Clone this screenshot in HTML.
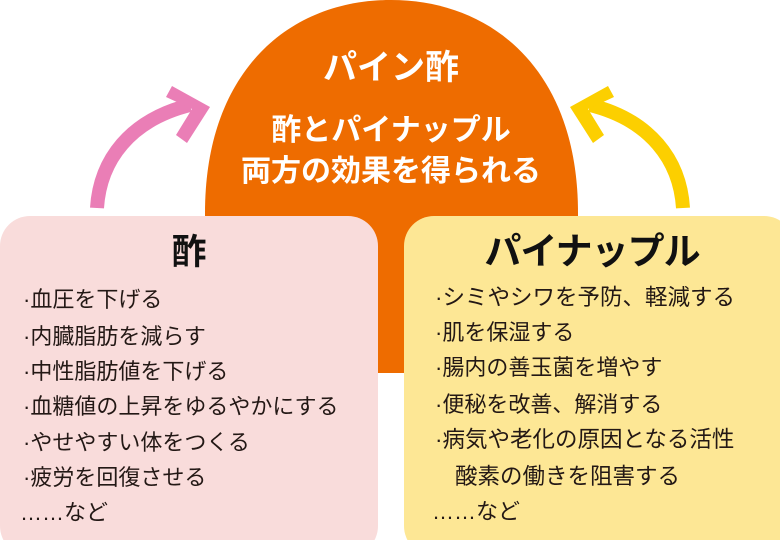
<!DOCTYPE html>
<html><head><meta charset="utf-8"><style>
body{margin:0;width:780px;height:540px;overflow:hidden;background:#fff;position:relative;font-family:"Liberation Sans","Noto Sans CJK JP",sans-serif}
.t{position:absolute;white-space:nowrap;line-height:1}
.w{color:#fff;font-weight:bold;text-align:center;width:400px;left:191px}
.l{font-size:22px;color:#231815}
</style></head><body>
<svg width="780" height="540" style="position:absolute;left:0;top:0">
<path d="M205,373 L205,213 C205,70 290,0 391,0 C492,0 578,70 578,213 L578,373 Z" fill="#ee6c00"/>
<rect x="0" y="216" width="378" height="340" rx="30" fill="#f9dcdb"/>
<rect x="404" y="216" width="390" height="340" rx="30" fill="#fde795"/>
<path d="M97,208 C100,160 130,120 190,105" stroke="#ea7eb6" stroke-width="14" fill="none"/>
<polygon points="172,86 210,107 187,143 176,135 192,109 166,97" fill="#ea7eb6"/>
<path d="M683,208 C680,160 650,120 590,105" stroke="#fccf00" stroke-width="14" fill="none"/>
<polygon points="608,86 570,107 593,143 604,135 588,109 614,97" fill="#fccf00"/>
</svg>
<div class="t w" style="top:51px;font-size:34px">パイン酢</div>
<div class="t w" style="top:116px;font-size:30px">酢とパイナップル</div>
<div class="t w" style="top:157px;font-size:30px">両方の効果を得られる</div>
<div class="t" style="left:0;width:378px;text-align:center;top:235px;font-size:35px;font-weight:bold;color:#111">酢</div>
<div class="t" style="left:404px;width:376px;text-align:center;top:233px;font-size:37px;font-weight:bold;color:#111;letter-spacing:-1px">パイナップル</div>
<div class="t l" style="left:23px;top:289px">·血圧を下げる</div>
<div class="t l" style="left:23px;top:326px">·内臓脂肪を減らす</div>
<div class="t l" style="left:23px;top:361px">·中性脂肪値を下げる</div>
<div class="t l" style="left:23px;top:396px">·血糖値の上昇をゆるやかにする</div>
<div class="t l" style="left:23px;top:432px">·やせやすい体をつくる</div>
<div class="t l" style="left:23px;top:467px">·疲労を回復させる</div>
<div class="t l" style="left:20px;top:502px">……など</div>
<div class="t l" style="left:435px;top:287px;font-size:22.5px">·シミやシワを予防、軽減する</div>
<div class="t l" style="left:435px;top:322px">·肌を保湿する</div>
<div class="t l" style="left:435px;top:357px">·腸内の善玉菌を増やす</div>
<div class="t l" style="left:435px;top:394px">·便秘を改善、解消する</div>
<div class="t l" style="left:435px;top:429px;font-size:22.5px">·病気や老化の原因となる活性</div>
<div class="t l" style="left:455px;top:466px;font-size:22.5px">酸素の働きを阻害する</div>
<div class="t l" style="left:432px;top:501px">……など</div>
</body></html>
